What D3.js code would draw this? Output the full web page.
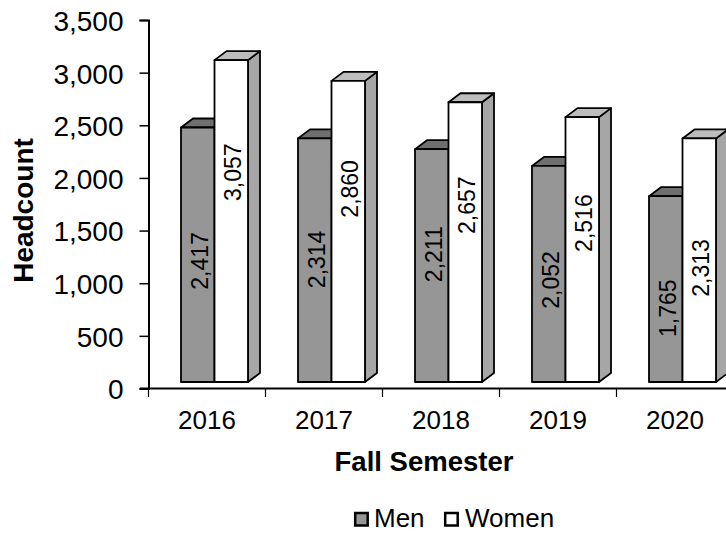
<!DOCTYPE html>
<html><head><meta charset="utf-8">
<script src="https://cdnjs.cloudflare.com/ajax/libs/d3/7.8.5/d3.min.js"></script>
<style>html,body{margin:0;padding:0;background:#fff;overflow:hidden}svg{display:block}text{font-family:"Liberation Sans",Arial,sans-serif;fill:#000}</style>
</head><body><svg id="c" width="726" height="534"></svg>
<script>
const years=["2016","2017","2018","2019","2020"];
const men=[2417,2314,2211,2052,1765];
const women=[3057,2860,2657,2516,2313];
const yTicks=[0,500,1000,1500,2000,2500,3000,3500];
const seriesNames=["Men","Women"];
const labelDrop={Men:[133.5,121,105,114,112],Women:[112,108,103,106,129.5]};

const svg=d3.select("#c");
const x=d3.scaleBand().domain(years).range([148.5,733.5]).paddingInner(0).paddingOuter(0);
const y=d3.scaleLinear().domain([0,3500]).range([388.5,20]);
const fmt=d3.format(",");
const dx=12,dy=-9,baseShift=-6.5,barW=33.5,lead=32.5;
const colors={Men:{front:"#969696",top:"#6f6f6f",side:"#6f6f6f"},Women:{front:"#fff",top:"#bdbdbd",side:"#a6a6a6"}};

const g=svg.append("g");
function bar(name,yr,v,off,i){
 const c=colors[name],x0=x(yr)+lead+off*barW,x1=x0+barW,yt=y(v)+baseShift,yb=y(0)+baseShift;
 const p=(pts,f)=>g.append("path").attr("d","M"+pts.map(a=>a.join(",")).join("L")+"Z").attr("fill",f).attr("stroke","#000").attr("stroke-width",1.8).attr("stroke-linejoin","round");
 p([[x1,yt],[x1+dx,yt+dy],[x1+dx,yb+dy],[x1,yb]],c.side);
 p([[x0,yt],[x0+dx,yt+dy],[x1+dx,yt+dy],[x1,yt]],c.top);
 p([[x0,yt],[x1,yt],[x1,yb],[x0,yb]],c.front);
}
years.forEach((yr,i)=>bar("Men",yr,men[i],0,i));
years.forEach((yr,i)=>bar("Women",yr,women[i],1,i));
const label=(name,yr,v,off,i)=>{
 const cx=x(yr)+lead+off*barW+barW/2, cy=y(v)+baseShift+labelDrop[name][i];
 svg.append("text").attr("transform",`translate(${cx+10},${cy}) rotate(-90)`).attr("text-anchor","middle").style("font-size","23px").text(fmt(v));
};
years.forEach((yr,i)=>{label("Men",yr,men[i],0,i);label("Women",yr,women[i],1,i);});

const yA=svg.append("g").attr("transform","translate(148.5,0)").call(d3.axisLeft(y).tickValues(yTicks).tickFormat(fmt).tickSize(9).tickPadding(16));
yA.selectAll("text").style("font-size","28px").attr("dy","0.37em");
yA.selectAll("line").attr("stroke","#000").attr("stroke-width",1.5);
yA.select("path").attr("stroke","#000").attr("stroke-width",2);
const xA=svg.append("g").attr("transform","translate(0,388.5)").call(d3.axisBottom(x).tickSize(0).tickPadding(22));
xA.selectAll("text").style("font-size","26px");
xA.selectAll("line").remove();
xA.select("path").attr("d","M140,0H726").attr("stroke","#000").attr("stroke-width",2);
svg.append("g").selectAll("line").data(d3.range(0,years.length+1)).join("line")
 .attr("x1",i=>148.5+i*x.bandwidth()).attr("x2",i=>148.5+i*x.bandwidth()).attr("y1",388.5).attr("y2",397).attr("stroke","#000").attr("stroke-width",1.2);

svg.append("text").attr("transform","translate(32.5,210.5) rotate(-90)").attr("text-anchor","middle").style("font-size","28px").style("font-weight","bold").text("Headcount");
svg.append("text").attr("x",424).attr("y",470.5).attr("text-anchor","middle").style("font-size","27.5px").style("font-weight","bold").text("Fall Semester");
const lg=[{n:"Men",sx:355.2,tx:374,f:colors.Men.front},{n:"Women",sx:445.2,tx:465,f:colors.Women.front}];
lg.forEach(l=>{svg.append("rect").attr("x",l.sx).attr("y",513).attr("width",12.5).attr("height",12.5).attr("fill",l.f).attr("stroke","#000").attr("stroke-width",2.5);
 svg.append("text").attr("x",l.tx).attr("y",527.3).style("font-size","26px").text(l.n);});
</script></body></html>
